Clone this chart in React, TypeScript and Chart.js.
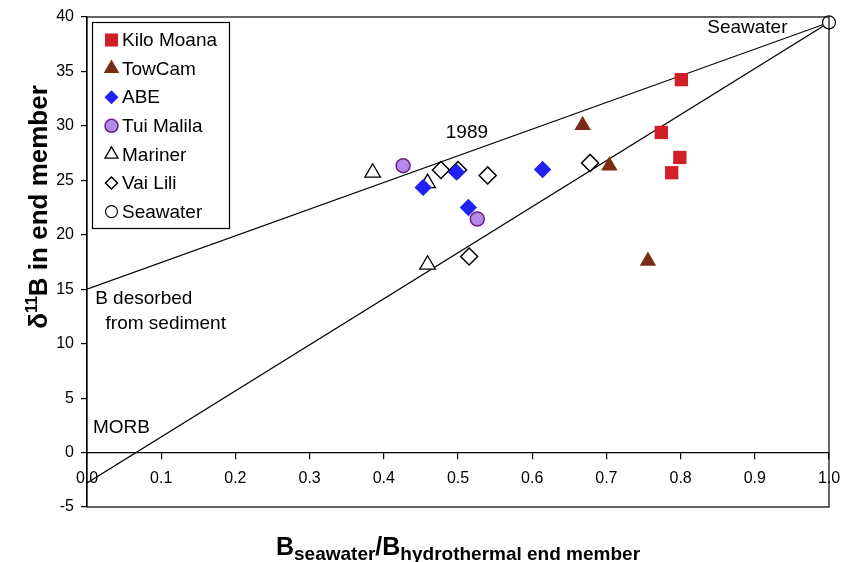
import React, { useEffect, useRef } from "react";
import { Chart, registerables } from "chart.js";

Chart.register(...registerables);

// ---------- data ----------
const kiloMoanaX = [0.801, 0.774, 0.799, 0.788];
const kiloMoanaY = [34.25, 29.4, 27.1, 25.7];

const towCamX = [0.668, 0.704, 0.756];
const towCamY = [30.05, 26.35, 17.6];

const abeX = [0.453, 0.498, 0.514, 0.614];
const abeY = [24.35, 25.75, 22.5, 26.0];

const tuiMalilaX = [0.426, 0.526];
const tuiMalilaY = [26.35, 21.45];

const marinerX = [0.385, 0.459, 0.459];
const marinerY = [25.7, 24.75, 17.25];

const vaiLiliX = [0.477, 0.5, 0.54, 0.515, 0.678];
const vaiLiliY = [25.95, 25.95, 25.45, 18.0, 26.6];

const seawaterX = [1.0];
const seawaterY = [39.5];

const line1989X = [0, 1];
const line1989Y = [15, 39.5];

const morbLineX = [0, 1];
const morbLineY = [-2.8, 39.5];

const xMin = 0;
const xMax = 1;
const xStep = 0.1;
const yMin = -5;
const yMax = 40;
const yStep = 5;

const legendLabels = ["Kilo Moana", "TowCam", "ABE", "Tui Malila", "Mariner", "Vai Lili", "Seawater"];

// ---------- helpers ----------
const FONT = "'Liberation Sans', Arial, Helvetica, sans-serif";

const toPts = (xs: number[], ys: number[]) => xs.map((x, i) => ({ x, y: ys[i] }));

type MarkerStyle = {
  shape: "rect" | "triangle" | "rectRot" | "circle";
  fill: string;
  stroke: string;
  lw: number;
  r: number;
  legendR: number;
};

const styles: MarkerStyle[] = [
  { shape: "rect", fill: "#D01F27", stroke: "#D01F27", lw: 0, r: 9.4, legendR: 9.2 },
  { shape: "triangle", fill: "#7A2D14", stroke: "#7A2D14", lw: 0, r: 9.5, legendR: 9 },
  { shape: "rectRot", fill: "#2222F2", stroke: "#2222F2", lw: 0, r: 8.7, legendR: 7 },
  { shape: "circle", fill: "#B28BEA", stroke: "#6E1E86", lw: 1.5, r: 7, legendR: 6.5 },
  { shape: "triangle", fill: "#FFFFFF", stroke: "#000000", lw: 1.3, r: 9, legendR: 7.5 },
  { shape: "rectRot", fill: "#FFFFFF", stroke: "#000000", lw: 1.5, r: 8.5, legendR: 6 },
  { shape: "circle", fill: "#FFFFFF", stroke: "#000000", lw: 1.2, r: 6.5, legendR: 6 },
];

function drawMarker(ctx: CanvasRenderingContext2D, st: MarkerStyle, x: number, y: number, r: number) {
  ctx.save();
  ctx.beginPath();
  if (st.shape === "rect") {
    const s = Math.SQRT1_2 * r;
    ctx.rect(x - s, y - s, 2 * s, 2 * s);
  } else if (st.shape === "triangle") {
    let a = 0;
    ctx.moveTo(x + Math.sin(a) * r, y - Math.cos(a) * r);
    a += (2 * Math.PI) / 3;
    ctx.lineTo(x + Math.sin(a) * r, y - Math.cos(a) * r);
    a += (2 * Math.PI) / 3;
    ctx.lineTo(x + Math.sin(a) * r, y - Math.cos(a) * r);
    ctx.closePath();
  } else if (st.shape === "rectRot") {
    ctx.moveTo(x, y - r);
    ctx.lineTo(x + r, y);
    ctx.lineTo(x, y + r);
    ctx.lineTo(x - r, y);
    ctx.closePath();
  } else {
    ctx.arc(x, y, r, 0, Math.PI * 2);
  }
  ctx.fillStyle = st.fill;
  ctx.fill();
  if (st.lw > 0) {
    ctx.strokeStyle = st.stroke;
    ctx.lineWidth = st.lw;
    ctx.stroke();
  }
  ctx.restore();
}

function drawPieces(
  ctx: CanvasRenderingContext2D,
  pieces: { t: string; size: number; dy: number }[],
  cx: number,
  baseY: number
) {
  let total = 0;
  for (const p of pieces) {
    ctx.font = `bold ${p.size}px ${FONT}`;
    total += ctx.measureText(p.t).width;
  }
  let x = cx - total / 2;
  for (const p of pieces) {
    ctx.font = `bold ${p.size}px ${FONT}`;
    ctx.fillText(p.t, x, baseY + p.dy);
    x += ctx.measureText(p.t).width;
  }
}

const decorPlugin = {
  id: "decor",
  afterDraw(chart: any) {
    const ctx: CanvasRenderingContext2D = chart.ctx;
    const { left, right, top, bottom } = chart.chartArea;
    const xs = chart.scales.x;
    const ys = chart.scales.y;

    ctx.save();
    // frame
    ctx.strokeStyle = "#000";
    ctx.lineWidth = 1.2;
    ctx.strokeRect(left, top, right - left, bottom - top);

    // annotations
    ctx.fillStyle = "#000";
    ctx.font = `19px ${FONT}`;
    ctx.textBaseline = "middle";
    ctx.textAlign = "center";
    ctx.fillText("Seawater", xs.getPixelForValue(0.89), ys.getPixelForValue(39));
    ctx.fillText("1989", xs.getPixelForValue(0.512), ys.getPixelForValue(29.4));
    ctx.textAlign = "left";
    ctx.fillText("B desorbed", xs.getPixelForValue(0.011), ys.getPixelForValue(14.1));
    ctx.fillText("from sediment", xs.getPixelForValue(0.025), ys.getPixelForValue(11.8));
    ctx.fillText("MORB", xs.getPixelForValue(0.008), ys.getPixelForValue(2.3));

    // legend
    const lx = 92.5, ly = 22.5, lw = 137, lh = 206;
    ctx.fillStyle = "#fff";
    ctx.fillRect(lx, ly, lw, lh);
    ctx.strokeStyle = "#000";
    ctx.lineWidth = 1.2;
    ctx.strokeRect(lx, ly, lw, lh);
    ctx.font = `19px ${FONT}`;
    ctx.textAlign = "left";
    ctx.textBaseline = "middle";
    legendLabels.forEach((lab, i) => {
      const yy = 40 + i * 28.6;
      drawMarker(ctx, styles[i], 111.5, yy, styles[i].legendR);
      ctx.fillStyle = "#000";
      ctx.fillText(lab, 122, yy + 1);
    });

    // axis titles
    ctx.fillStyle = "#000";
    ctx.textAlign = "left";
    ctx.textBaseline = "alphabetic";
    drawPieces(
      ctx,
      [
        { t: "B", size: 25, dy: 0 },
        { t: "seawater", size: 19, dy: 5 },
        { t: "/", size: 25, dy: 0 },
        { t: "B", size: 25, dy: 0 },
        { t: "hydrothermal end member", size: 19, dy: 5 },
      ],
      458,
      555
    );

    ctx.save();
    ctx.translate(47, 207);
    ctx.rotate(-Math.PI / 2);
    drawPieces(
      ctx,
      [
        { t: "\u03B4", size: 26, dy: 0 },
        { t: "11", size: 16, dy: -10 },
        { t: "B in end member", size: 26, dy: 0 },
      ],
      0,
      0
    );
    ctx.restore();
    ctx.restore();
  },
};

export default function App() {
  const ref = useRef<HTMLCanvasElement | null>(null);

  useEffect(() => {
    if (!ref.current) return;
    const scatterNames = legendLabels;
    const scatterData = [
      toPts(kiloMoanaX, kiloMoanaY),
      toPts(towCamX, towCamY),
      toPts(abeX, abeY),
      toPts(tuiMalilaX, tuiMalilaY),
      toPts(marinerX, marinerY),
      toPts(vaiLiliX, vaiLiliY),
      toPts(seawaterX, seawaterY),
    ];
    const datasets: any[] = scatterData.map((d, i) => ({
      label: scatterNames[i],
      data: d,
      pointStyle: styles[i].shape,
      pointRadius: styles[i].r,
      pointBackgroundColor: styles[i].fill,
      pointBorderColor: styles[i].stroke,
      pointBorderWidth: styles[i].lw,
      showLine: false,
      clip: false,
      order: 1,
    }));
    datasets.push(
      {
        label: "1989",
        data: toPts(line1989X, line1989Y),
        showLine: true,
        borderColor: "#000",
        borderWidth: 1.2,
        pointRadius: 0,
        order: 10,
      },
      {
        label: "mixing",
        data: toPts(morbLineX, morbLineY),
        showLine: true,
        borderColor: "#000",
        borderWidth: 1.2,
        pointRadius: 0,
        order: 10,
      }
    );

    const chart = new Chart(ref.current, {
      type: "scatter",
      data: { datasets },
      options: {
        animation: false,
        responsive: false,
        devicePixelRatio: 1,
        layout: { padding: { top: 17, right: 13, bottom: 55, left: 0 } },
        plugins: { legend: { display: false }, tooltip: { enabled: false } },
        scales: {
          x: {
            type: "linear",
            min: xMin,
            max: xMax,
            position: { y: 0 } as any,
            ticks: {
              stepSize: xStep,
              color: "#000",
              font: { family: FONT, size: 16 },
              padding: 10,
              maxRotation: 0,
              callback: (v: any) => Number(v).toFixed(1),
            },
            grid: { display: true, drawOnChartArea: false, drawTicks: true, tickLength: 6, color: "#000", lineWidth: 1.2 },
            border: { display: true, color: "#000", width: 1.2 },
            afterFit: (s: any) => {
              s.paddingLeft = 0;
              s.paddingRight = 0;
            },
          },
          y: {
            type: "linear",
            min: yMin,
            max: yMax,
            ticks: {
              stepSize: yStep,
              color: "#000",
              font: { family: FONT, size: 16 },
              padding: 7,
            },
            grid: { display: true, drawOnChartArea: false, drawTicks: true, tickLength: 6, color: "#000", lineWidth: 1.2 },
            border: { display: true, color: "#000", width: 1.2 },
            afterFit: (s: any) => {
              s.width = 87;
              s.paddingTop = 0;
              s.paddingBottom = 0;
            },
          },
        },
      },
      plugins: [decorPlugin],
    });
    return () => chart.destroy();
  }, []);

  return (
    <div style={{ position: "absolute", left: 0, top: 0, width: 842, height: 562, background: "#fff" }}>
      <canvas ref={ref} width={842} height={562} style={{ width: 842, height: 562, display: "block" }} />
    </div>
  );
}
